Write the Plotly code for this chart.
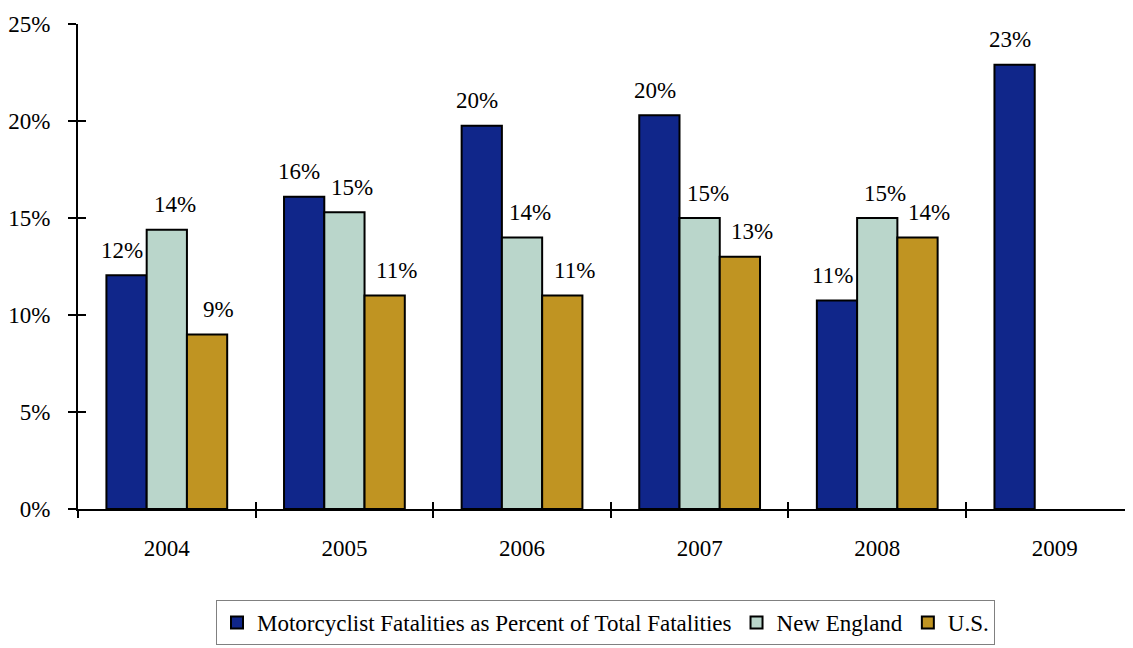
import plotly.graph_objects as go

years = ["2004", "2005", "2006", "2007", "2008", "2009"]
motorcyclist = [12.05, 16.1, 19.75, 20.3, 10.75, 22.9]
new_england = [14.4, 15.3, 14.0, 15.0, 15.0, None]
us = [9.0, 11.0, 11.0, 13.0, 14.0, None]
series_names = ["Motorcyclist Fatalities as Percent of Total Fatalities", "New England", "U.S."]
colors = ["#10268A", "#BAD6CB", "#C09422"]
y_ticks = [0, 5, 10, 15, 20, 25]
y_tick_labels = ["0%", "5%", "10%", "15%", "20%", "25%"]

FONT = "'Liberation Serif', 'Times New Roman', serif"
FS = 23
fig = go.Figure()
all_series = [motorcyclist, new_england, us]
for name, vals, col in zip(series_names, all_series, colors):
    fig.add_trace(go.Bar(
        x=years, y=vals, name=name,
        marker=dict(color=col, line=dict(color="black", width=2)),
    ))

# empty helper trace so the overlay axes (inner half of crossing ticks) get drawn
fig.add_trace(go.Scatter(x=[], y=[], xaxis="x2", yaxis="y2", mode="lines",
                         showlegend=False, hoverinfo="skip"))

# data labels above bars (per-series horizontal nudge like the original)
bar_w = 40
label_nudge = [-5, 8, 12]
for k, vals in enumerate(all_series):
    off = (k - 1) * bar_w + label_nudge[k]
    for i, v in enumerate(vals):
        if v is None:
            continue
        fig.add_annotation(x=i, y=v, xref="x", yref="y", text=f"{round(v):d}%",
                           showarrow=False, xshift=off, yshift=25, yanchor="middle",
                           font=dict(family=FONT, size=FS, color="black"))

boundaries = [i - 0.5 for i in range(len(years) + 1)]

fig.update_layout(
    width=1125, height=640,
    margin=dict(l=70, r=0, t=16, b=139),
    paper_bgcolor="white", plot_bgcolor="white",
    barmode="group", bargap=0.32, bargroupgap=0,
    font=dict(family=FONT, size=FS, color="black"),
    showlegend=True,
    legend=dict(orientation="h", x=0.5, xanchor="center", y=-0.1876, yanchor="top",
                bordercolor="#808080", borderwidth=1,
                font=dict(family=FONT, size=FS, color="black"),
                itemwidth=30, tracegroupgap=0),
    xaxis=dict(type="category", range=[-0.5, 5.44], showline=True, linecolor="black", linewidth=2,
               ticks="outside", ticklen=7, tickwidth=2, tickcolor="black",
               tickson="boundaries", showgrid=False, zeroline=False,
               ticklabelstandoff=17, tickfont=dict(family=FONT, size=FS)),
    yaxis=dict(range=[0, 25], tickvals=y_ticks, ticktext=y_tick_labels,
               showline=True, linecolor="black", linewidth=2,
               ticks="outside", ticklen=8, tickwidth=2, tickcolor="black",
               showgrid=False, zeroline=False, ticklabelstandoff=13,
               tickfont=dict(family=FONT, size=FS)),
    xaxis2=dict(overlaying="x", anchor="y2", range=[-0.5, 5.44], tickvals=boundaries,
                ticks="inside", ticklen=7, tickwidth=2, tickcolor="black",
                showticklabels=False, showline=False, showgrid=False, zeroline=False),
    yaxis2=dict(overlaying="y", anchor="x2", side="left", range=[0, 25], tickvals=y_ticks,
                ticks="inside", ticklen=8, tickwidth=2, tickcolor="black",
                showticklabels=False, showline=False, showgrid=False, zeroline=False),
)

fig.write_html("out.html")
